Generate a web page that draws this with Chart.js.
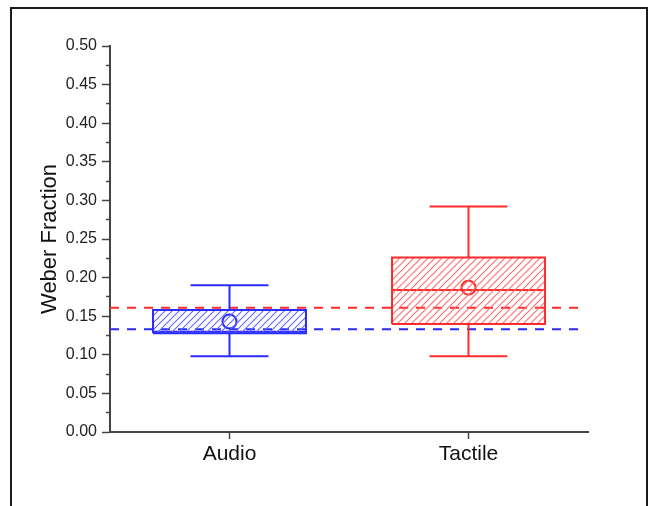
<!DOCTYPE html>
<html>
<head>
<meta charset="utf-8">
<script src="https://cdn.jsdelivr.net/npm/chart.js@4.4.1/dist/chart.umd.min.js"></script>
<style>
    body { margin: 0; background: #fff; overflow: hidden; }
    #wrap { position: relative; width: 650px; height: 506px; }
    #frame {
        position: absolute; left: 10px; top: 7px; width: 634px; height: 600px;
        border: 2px solid #1a1a1a;
    }
    #weberChart { position: absolute; left: 0; top: 0; }
</style>
</head>
<body>
<div id="wrap">
    <div id="frame"></div>
    <canvas id="weberChart" width="650" height="506"></canvas>
</div>
<script>
// values
const categories = ["Audio", "Tactile"];
const whiskerLow = [0.098, 0.098];
const q1 = [0.128, 0.140];
const median = [0.130, 0.184];
const q3 = [0.158, 0.226];
const whiskerHigh = [0.190, 0.292];
const means = [0.143, 0.187];
// dashed reference levels (blue, red)
const refLevels = [0.133, 0.161];
const yTicks = [0, 0.05, 0.1, 0.15, 0.2, 0.25, 0.3, 0.35, 0.4, 0.45, 0.5];

const colors = ["#2b2bff", "#ff2b2b"];
const hatchColors = ["#6666ff", "#ff7070"];
const boxHalf = 0.32;
const capHalf = 0.163;
const refEnd = 1.962;

function hatch(color) {
    const c = document.createElement("canvas");
    c.width = 7;
    c.height = 7;
    const g = c.getContext("2d");
    g.strokeStyle = color;
    g.lineWidth = 1.1;
    g.beginPath();
    g.moveTo(0, 7); g.lineTo(7, 0);
    g.moveTo(-1, 1); g.lineTo(1, -1);
    g.moveTo(6, 8); g.lineTo(8, 6);
    g.stroke();
    return g.createPattern(c, "repeat");
}

const seg = (label, pts, color, extra) => Object.assign({
    label: label,
    data: pts,
    borderColor: color,
    borderWidth: 2,
    pointRadius: 0,
    fill: false,
    tension: 0,
}, extra || {});

document.addEventListener("DOMContentLoaded", function () {
    const ctx = document.getElementById("weberChart");
    if (!ctx) return;

    const datasets = [];
    categories.forEach((cat, i) => {
        const c = i + 0.5;
        const col = colors[i];
        datasets.push(seg(cat + " box", [
            { x: c - boxHalf, y: q1[i] }, { x: c + boxHalf, y: q1[i] },
            { x: c + boxHalf, y: q3[i] }, { x: c - boxHalf, y: q3[i] },
            { x: c - boxHalf, y: q1[i] },
        ], col, { fill: "shape", backgroundColor: hatch(hatchColors[i]) }));
        datasets.push(seg(cat + " median", [
            { x: c - boxHalf, y: median[i] }, { x: c + boxHalf, y: median[i] },
        ], col));
        datasets.push(seg(cat + " upper", [
            { x: c, y: q3[i] }, { x: c, y: whiskerHigh[i] },
        ], col));
        datasets.push(seg(cat + " lower", [
            { x: c, y: q1[i] }, { x: c, y: whiskerLow[i] },
        ], col));
        datasets.push(seg(cat + " cap hi", [
            { x: c - capHalf, y: whiskerHigh[i] }, { x: c + capHalf, y: whiskerHigh[i] },
        ], col));
        datasets.push(seg(cat + " cap lo", [
            { x: c - capHalf, y: whiskerLow[i] }, { x: c + capHalf, y: whiskerLow[i] },
        ], col));
    });
    refLevels.forEach((v, i) => {
        datasets.push(seg("ref " + i, [{ x: 0, y: v }, { x: refEnd, y: v }], colors[i],
            { borderDash: [9, 8] }));
    });
    categories.forEach((cat, i) => {
        datasets.push({
            label: cat + " mean",
            data: [{ x: i + 0.5, y: means[i] }],
            showLine: false,
            pointRadius: 7,
            pointBorderWidth: 2,
            pointBorderColor: colors[i],
            pointBackgroundColor: "#fff",
        });
    });

    const isMajor = (v) => Math.abs(Math.round(v * 1000) % 50) < 1;
    const fontFam = "'Liberation Sans', Arial, sans-serif";

    new Chart(ctx, {
        type: "line",
        data: { datasets: datasets },
        options: {
            responsive: false,
            animation: false,
            layout: { padding: { top: 46, right: 62, left: 0, bottom: 0 } },
            plugins: {
                legend: { display: false },
                tooltip: { enabled: false },
            },
            scales: {
                x: {
                    type: "linear",
                    min: 0,
                    max: 2,
                    afterBuildTicks: function (scale) {
                        scale.ticks = categories.map((c, i) => ({ value: i + 0.5 }));
                    },
                    afterFit: function (scale) { scale.height = 74; },
                    border: { color: "#444", width: 2 },
                    grid: {
                        drawOnChartArea: false,
                        tickLength: 7,
                        tickColor: "#444",
                        tickWidth: 1.5,
                    },
                    ticks: {
                        padding: 3,
                        color: "#111",
                        font: { family: fontFam, size: 21 },
                        callback: function (value, index) {
                            return categories[index];
                        },
                    },
                },
                y: {
                    type: "linear",
                    min: 0,
                    max: 0.5,
                    afterBuildTicks: function (scale) {
                        const t = [];
                        yTicks.forEach((v, k) => {
                            t.push({ value: v });
                            if (k < yTicks.length - 1) t.push({ value: (v + yTicks[k + 1]) / 2 });
                        });
                        scale.ticks = t;
                    },
                    afterFit: function (scale) { scale.width = 110; },
                    border: { color: "#444", width: 2 },
                    grid: {
                        drawOnChartArea: false,
                        tickLength: 8,
                        tickColor: "#444",
                        tickWidth: 1.5,
                        tickBorderDash: (c) => isMajor(c.tick.value) ? [] : [4, 4],
                        tickBorderDashOffset: (c) => isMajor(c.tick.value) ? 0 : 4,
                    },
                    ticks: {
                        autoSkip: false,
                        padding: 5,
                        color: "#222",
                        font: { family: fontFam, size: 16 },
                        callback: function (value) {
                            return isMajor(value) ? value.toFixed(2) : "";
                        },
                    },
                    title: {
                        display: true,
                        text: "Weber Fraction",
                        color: "#111",
                        font: { family: fontFam, size: 22 },
                        padding: { top: 37, bottom: 0 },
                    },
                },
            },
        },
    });
});
</script>
</body>
</html>
